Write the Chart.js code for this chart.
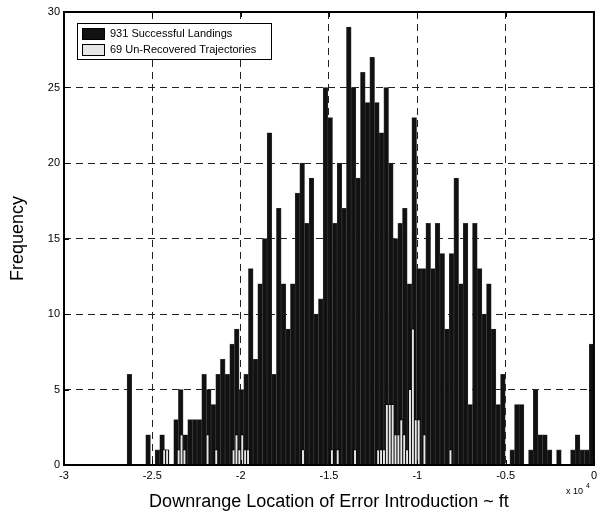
<!DOCTYPE html>
<html>
<head>
<meta charset="utf-8">
<script src="https://cdn.jsdelivr.net/npm/chart.js@4"></script>
<style>
  html, body { margin: 0; padding: 0; background: #fff; }
</style>
</head>
<body>
<canvas id="myChart" width="601" height="516"></canvas>
<script>
const FONT = "'Liberation Sans', Arial, sans-serif";

// all 1000 runs, 100 bins (ft)
const allBinStart = -26430;
const allBinWidth = 264.3;
const allCounts = [
  6, 0, 0, 0, 2, 0, 1, 2, 1, 0,
  3, 5, 2, 3, 3, 3, 6, 5, 4, 6,
  7, 6, 8, 9, 5, 6, 13, 7, 12, 15,
  22, 6, 17, 12, 9, 12, 18, 20, 16, 19,
  10, 11, 25, 23, 16, 20, 17, 29, 25, 19,
  26, 24, 27, 24, 22, 25, 20, 15, 16, 17,
  12, 23, 13, 13, 16, 13, 16, 14, 9, 14,
  19, 12, 16, 4, 16, 13, 10, 12, 9, 4,
  6, 0, 1, 4, 4, 0, 1, 5, 2, 2,
  1, 0, 1, 0, 0, 1, 2, 1, 1, 8,
];

// the 69 lost runs, own 100 bins (ft)
const lostBinStart = -24410;
const lostBinWidth = 163.7;
const lostCounts = [
  1, 1, 0, 0, 0, 1, 2, 1, 0, 0,
  0, 0, 0, 0, 0, 2, 0, 0, 1, 0,
  0, 0, 0, 0, 1, 2, 1, 2, 1, 1,
  0, 0, 0, 0, 0, 0, 0, 0, 0, 0,
  0, 0, 0, 0, 0, 0, 0, 0, 1, 0,
  0, 0, 0, 0, 0, 0, 0, 0, 1, 0,
  1, 0, 0, 0, 0, 0, 1, 0, 0, 0,
  0, 0, 0, 0, 1, 1, 1, 4, 4, 4,
  2, 2, 3, 2, 1, 5, 9, 3, 3, 0,
  2, 0, 0, 0, 0, 0, 0, 0, 0, 1,
];

const seriesLabels = ['931 Successful Landings', '69 Un-Recovered Trajectories'];
const xTitle = 'Downrange Location of Error Introduction ~ ft';
const yTitle = 'Frequency';

function toBars(start, width, counts) {
  return counts.map((c, i) => ({ x: start + width * (i + 0.5), y: c }));
}

// box, inward ticks, legend and the x10^4 note, drawn like the matlab figure
const figureExtras = {
  id: 'figureExtras',
  afterDraw(chart) {
    const { ctx, chartArea: a, scales } = chart;
    ctx.save();
    ctx.strokeStyle = '#000';
    ctx.lineWidth = 1;
    ctx.beginPath();
    scales.x.ticks.forEach((t, i) => {
      const px = Math.round(scales.x.getPixelForTick(i)) + 0.5;
      ctx.moveTo(px, a.bottom); ctx.lineTo(px, a.bottom - 5);
      ctx.moveTo(px, a.top); ctx.lineTo(px, a.top + 5);
    });
    scales.y.ticks.forEach((t, i) => {
      const py = Math.round(scales.y.getPixelForTick(i)) + 0.5;
      ctx.moveTo(a.left, py); ctx.lineTo(a.left + 5, py);
      ctx.moveTo(a.right, py); ctx.lineTo(a.right - 5, py);
    });
    ctx.stroke();
    ctx.lineWidth = 2;
    ctx.strokeRect(a.left, a.top, a.right - a.left, a.bottom - a.top);

    // legend
    const lx = a.left + 13, ly = a.top + 11;
    ctx.fillStyle = '#fff';
    ctx.fillRect(lx, ly, 194, 36);
    ctx.lineWidth = 1;
    ctx.strokeRect(lx + 0.5, ly + 0.5, 194, 36);
    const ds = chart.data.datasets;
    ctx.font = '11px ' + FONT;
    ctx.textBaseline = 'middle';
    ds.forEach((d, i) => {
      const sy = ly + 5 + i * 16;
      ctx.fillStyle = d.backgroundColor;
      ctx.fillRect(lx + 5, sy, 22, 11);
      ctx.strokeStyle = '#000';
      ctx.strokeRect(lx + 5.5, sy + 0.5, 22, 11);
      ctx.fillStyle = '#000';
      ctx.fillText(d.label, lx + 33, sy + 6);
    });

    ctx.font = '9px ' + FONT;
    ctx.fillText('x 10', a.right - 28, 492);
    ctx.font = '7px ' + FONT;
    ctx.fillText('4', a.right - 8, 486);
    ctx.restore();
  }
};

const ctx = document.getElementById('myChart');

new Chart(ctx, {
  type: 'bar',
  data: {
    datasets: [
      {
        label: seriesLabels[0],
        data: toBars(allBinStart, allBinWidth, allCounts),
        xAxisID: 'x',
        backgroundColor: '#111111',
        borderColor: '#3c3c3c',
        borderWidth: 0.6,
        order: 2,
      },
      {
        label: seriesLabels[1],
        data: toBars(lostBinStart, lostBinWidth, lostCounts),
        xAxisID: 'x2',
        backgroundColor: '#e6e6e6',
        borderColor: '#000',
        borderWidth: 0.8,
        borderSkipped: false,
        order: 1,
      },
    ],
  },
  options: {
    responsive: false,
    animation: false,
    layout: { padding: { left: 0, right: 5, top: 12, bottom: 0 } },
    datasets: { bar: { categoryPercentage: 1, barPercentage: 1, grouped: false } },
    plugins: { legend: { display: false }, tooltip: { enabled: false } },
    scales: {
      x: {
        type: 'linear',
        min: -30000,
        max: 0,
        offset: false,
        afterFit: (s) => { s.height = 51; },
        ticks: {
          stepSize: 5000,
          padding: 4,
          color: '#000',
          font: { family: FONT, size: 11 },
          callback: (v) => String(v / 10000),
        },
        grid: { offset: false, color: '#222', lineWidth: 1, drawTicks: false },
        border: { display: false, dash: [7, 5] },
        title: {
          display: true,
          text: xTitle,
          color: '#000',
          font: { family: FONT, size: 18 },
          padding: { top: 0, bottom: 3 },
        },
      },
      x2: {
        type: 'linear',
        min: -30000,
        max: 0,
        offset: false,
        display: false,
        grid: { offset: false },
      },
      y: {
        min: 0,
        max: 30,
        afterFit: (s) => { s.width = 64; },
        ticks: {
          stepSize: 5,
          padding: 4,
          color: '#000',
          font: { family: FONT, size: 11 },
        },
        grid: { color: '#222', lineWidth: 1, drawTicks: false },
        border: { display: false, dash: [7, 5] },
        title: {
          display: true,
          text: yTitle,
          color: '#000',
          font: { family: FONT, size: 18 },
          padding: { top: 7, bottom: 0 },
        },
      },
    },
  },
  plugins: [figureExtras],
});
</script>
</body>
</html>
